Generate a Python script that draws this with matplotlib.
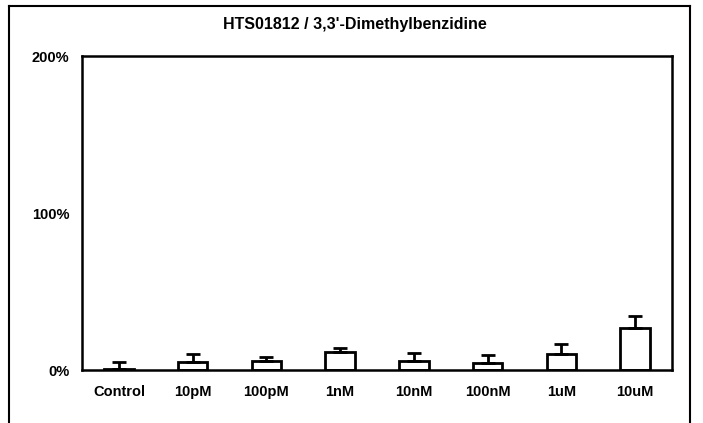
import numpy as np
import matplotlib.pyplot as plt
from matplotlib.lines import Line2D

plt.rcParams['font.family'] = ['Liberation Sans', 'DejaVu Sans']

# values (percent)
categories = ['Control', '10pM', '100pM', '1nM', '10nM', '100nM', '1uM', '10uM']
means = [0.5, 5, 6, 11.5, 5.5, 4.5, 10, 27]
errors = [4.5, 5, 2.5, 2.5, 5.5, 5, 6.5, 7.5]
yticks = [0, 100, 200]
ytick_labels = ['0%', '100%', '200%']

fig = plt.figure(figsize=(7.03, 4.23), dpi=100)
ax = fig.add_axes([82 / 703, 1 - 370 / 423, 590 / 703, 314 / 423])

x = np.arange(len(categories))
ax.bar(x, means, width=0.4, color='white', edgecolor='black', linewidth=2,
       yerr=[np.zeros(len(errors)), errors], capsize=5,
       error_kw=dict(ecolor='black', elinewidth=2, capthick=2))

ax.set_xlim(-0.5, len(categories) - 0.5)
ax.set_ylim(0, 200)
ax.set_xticks(x)
ax.set_xticklabels(categories, fontsize=10.5, fontweight='bold')
ax.set_yticks(yticks)
ax.set_yticklabels(ytick_labels, fontsize=10.5, fontweight='bold')
ax.tick_params(axis='x', length=0, pad=11)
ax.tick_params(axis='y', length=0, pad=9)
for s in ax.spines.values():
    s.set_linewidth(1.8)

fig.text(355 / 703, 1 - 25 / 423, "HTS01812 / 3,3'-Dimethylbenzidine",
         ha='center', va='center', fontsize=11.5, fontweight='bold')

# outer frame around the chart (open at the bottom)
fx0, fx1, fy1 = 9 / 703, 690 / 703, 1 - 6 / 423
for xs, ys in [([fx0, fx0], [0, fy1]), ([fx1, fx1], [0, fy1]), ([fx0, fx1], [fy1, fy1])]:
    fig.add_artist(Line2D(xs, ys, color='black', linewidth=1.5, transform=fig.transFigure))

fig.savefig('out.png', dpi=100)
